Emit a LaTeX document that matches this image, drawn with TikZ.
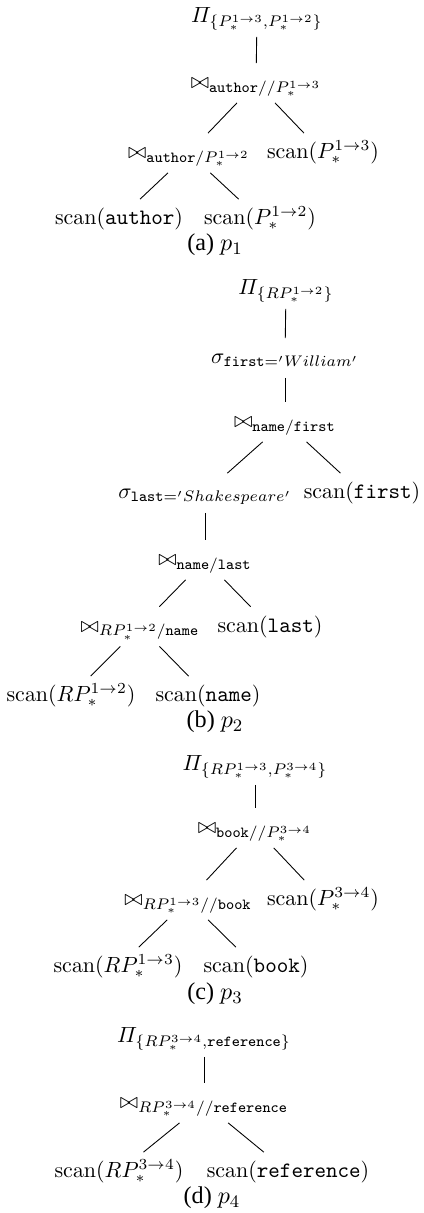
\documentclass[tikz,border=0pt]{standalone}
\usepackage{amsmath}
\usepackage{fontspec}
\newfontfamily\capfont{Liberation Serif}
\newcommand{\scanop}[1]{\mathrm{scan}(#1)}
\newcommand{\pth}[2]{P_*^{#1\to#2}}

\begin{document}
\begin{tikzpicture}[op/.style={text height=8pt,text depth=3pt},
  subcap/.style={font=\capfont\fontsize{11}{13}\selectfont}]
\useasboundingbox (0,0) rectangle (6.784,-19.408);
\node[op] (pa) at (4.112,-0.272) {$\varPi_{\{\pth13,\pth12\}}$};
\node[op] (ja1) at (4.096,-1.328) {$\bowtie_{\mathtt{author}//\pth13}$};
\node[op] (ja2) at (3.024,-2.448) {$\bowtie_{\mathtt{author}/\pth12}$};
\node[op] (sa1) at (5.168,-2.448) {$\scanop{\pth13}$};
\node[op] (sa2) at (1.904,-3.504) {$\scanop{\mathtt{author}}$};
\node[op] (sa3) at (4.160,-3.504) {$\scanop{\pth12}$};
\node[subcap] (capa) at (3.440,-3.920) {(a) $p_1$};
\draw (pa) -- (ja1);
\draw (ja1) -- (ja2);
\draw (ja1) -- (sa1);
\draw (ja2) -- (sa2);
\draw (ja2) -- (sa3);
\node[op] (pb) at (4.576,-4.624) {$\varPi_{\{R\pth12\}}$};
\node[op] (fb1) at (4.560,-5.728) {$\sigma_{\mathtt{first}='William'}$};
\node[op] (jb1) at (4.560,-6.752) {$\bowtie_{\mathtt{name}/\mathtt{first}}$};
\node[op] (fb2) at (3.280,-7.888) {$\sigma_{\mathtt{last}='Shakespeare'}$};
\node[op] (sb1) at (5.792,-7.888) {$\scanop{\mathtt{first}}$};
\node[op] (jb2) at (3.280,-8.960) {$\bowtie_{\mathtt{name}/\mathtt{last}}$};
\node[op] (jb3) at (2.240,-10.024) {$\bowtie_{R\pth12/\mathtt{name}}$};
\node[op] (sb2) at (4.320,-10.024) {$\scanop{\mathtt{last}}$};
\node[op] (sb3) at (1.136,-11.136) {$\scanop{R\pth12}$};
\node[op] (sb4) at (3.328,-11.136) {$\scanop{\mathtt{name}}$};
\node[subcap] (capb) at (3.440,-11.552) {(b) $p_2$};
\draw (pb) -- (fb1);
\draw (fb1) -- (jb1);
\draw (jb1) -- (fb2);
\draw (jb1) -- (sb1);
\draw (fb2) -- (jb2);
\draw (jb2) -- (jb3);
\draw (jb2) -- (sb2);
\draw (jb3) -- (sb3);
\draw (jb3) -- (sb4);
\node[op] (pc) at (4.080,-12.240) {$\varPi_{\{R\pth13,\pth34\}}$};
\node[op] (jc1) at (4.080,-13.248) {$\bowtie_{\mathtt{book}//\pth34}$};
\node[op] (jc2) at (3.008,-14.400) {$\bowtie_{R\pth13//\mathtt{book}}$};
\node[op] (sc1) at (5.168,-14.400) {$\scanop{\pth34}$};
\node[op] (sc2) at (1.888,-15.472) {$\scanop{R\pth13}$};
\node[op] (sc3) at (4.096,-15.472) {$\scanop{\mathtt{book}}$};
\node[subcap] (capc) at (3.440,-15.904) {(c) $p_3$};
\draw (pc) -- (jc1);
\draw (jc1) -- (jc2);
\draw (jc1) -- (sc1);
\draw (jc2) -- (sc2);
\draw (jc2) -- (sc3);
\node[op] (pd) at (3.264,-16.592) {$\varPi_{\{R\pth34,\mathtt{reference}\}}$};
\node[op] (jd1) at (3.264,-17.648) {$\bowtie_{R\pth34//\mathtt{reference}}$};
\node[op] (sd1) at (1.904,-18.752) {$\scanop{R\pth34}$};
\node[op] (sd2) at (4.608,-18.752) {$\scanop{\mathtt{reference}}$};
\node[subcap] (capd) at (3.392,-19.168) {(d) $p_4$};
\draw (pd) -- (jd1);
\draw (jd1) -- (sd1);
\draw (jd1) -- (sd2);
\end{tikzpicture}
\end{document}
